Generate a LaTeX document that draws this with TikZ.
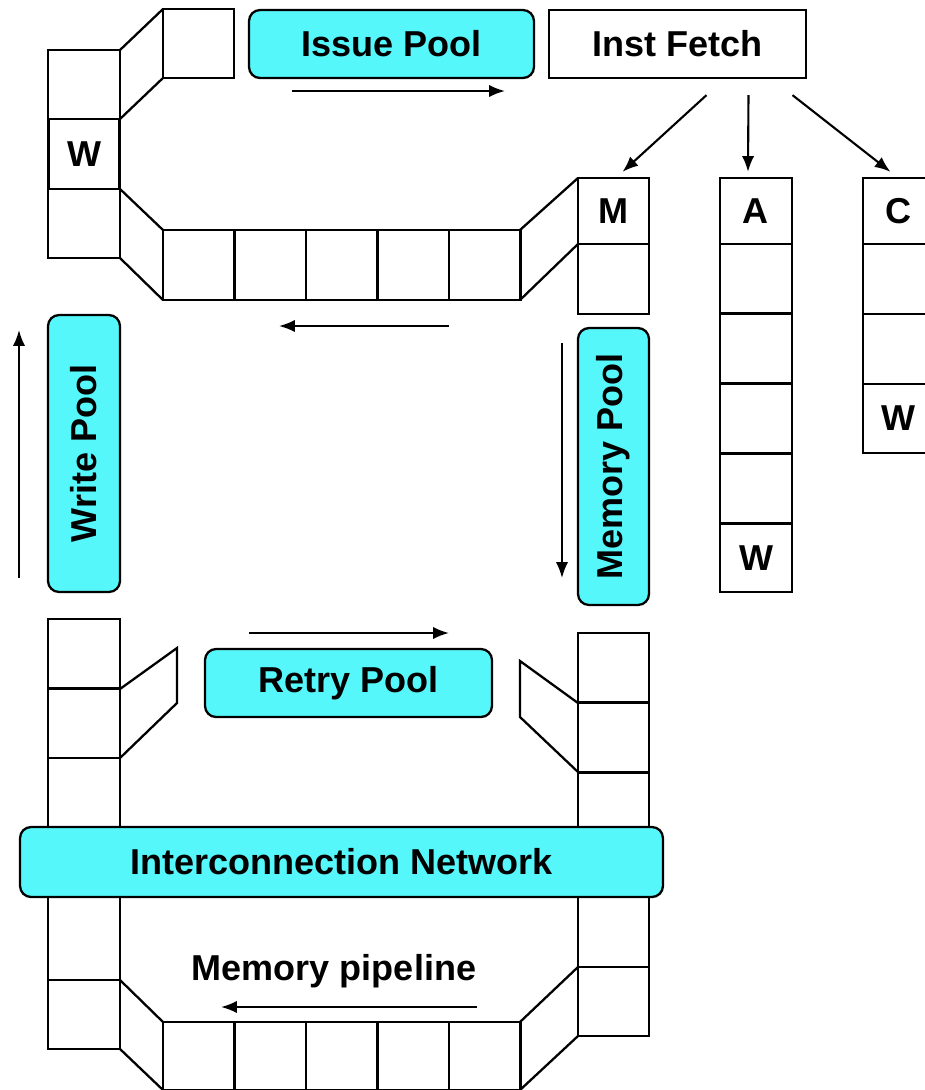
\documentclass[tikz,border=0pt]{standalone}
\usepackage{fontspec}
\setmainfont{Liberation Sans}
\usetikzlibrary{arrows.meta,calc}
\definecolor{poolcyan}{RGB}{85,247,251}

\begin{document}
\begin{tikzpicture}[x=0.02cm,y=-0.02cm,line width=1.3pt,
  pool/.style={draw, fill=poolcyan, rounded corners=0.22cm, inner sep=0pt, font=\bfseries\fontsize{20.5}{24}\selectfont},
  cell/.style={draw, minimum width=1.42cm, inner sep=0pt, font=\bfseries\fontsize{20.5}{24}\selectfont},
  flow/.style={-{Latex[length=9pt,width=7pt]}, line width=1.2pt}]
\useasboundingbox (0,0) rectangle (925,1090);

% pools and fetch
\node[pool, minimum width=5.7cm, minimum height=1.36cm] (issue) at (391.5,44) {Issue Pool};
\node[cell, minimum width=5.14cm, minimum height=1.36cm] (fetch) at (677.5,44) {Inst Fetch};
\node[pool, minimum width=5.54cm, minimum height=1.44cm, rotate=90] (write) at (84,453.5) {Write Pool};
\node[pool, minimum width=5.54cm, minimum height=1.42cm, rotate=90] (mempool) at (613.5,466.5) {Memory Pool};
\node[pool, minimum width=5.74cm, minimum height=1.36cm] (retry) at (348.5,683) {Retry Pool};

% upper pipeline
\draw (48,50) rectangle (120,119);
\node[cell, minimum height=1.4cm] (wtop) at (84,154) {W};
\draw (48,189) rectangle (120,258);
\draw (120,50) -- (163,9) (120,119) -- (163,78);
\draw (163,9) rectangle (234,78);
\draw (120,189) -- (163,230) (120,258) -- (163,300);
\foreach \x in {163,234.5,306,377.5,449}
\draw (\x,230) rectangle +(71.5,70);
\draw (520,230) -- (578,178) (520,300) -- (578,244);
\node[cell, minimum height=1.32cm] (M) at (613.5,211) {M};
\draw (578,244) rectangle (649,314);

% A and C pipelines
\node[cell, minimum width=1.44cm, minimum height=1.32cm] (A) at (756,211) {A};
\foreach \y in {244,314,384,454}
\draw (720,\y) rectangle +(72,69.6);
\node[cell, minimum width=1.44cm, minimum height=1.38cm] (wa) at (756,557.7) {W};
\node[cell, minimum width=1.42cm, minimum height=1.32cm] (C) at (898.5,211) {C};
\foreach \y in {244,314}
\draw (863,\y) rectangle +(71,70);
\node[cell, minimum width=1.42cm, minimum height=1.38cm] (wc) at (898.5,418.5) {W};

\draw[flow] ($(fetch.south)+(29,16)$) -- ($(M.north)+(9,-5)$);
\draw[flow] ($(fetch.south)+(71,16)$) -- ($(A.north)+(-8,-5)$);
\draw[flow] ($(fetch.south)+(115,16)$) -- ($(C.north)+(-8,-5)$);

% flow arrows
\draw[flow] (292,91) -- (505,91);
\draw[flow] (449,326) -- (279,326);
\draw[flow] (19,578) -- (19,330);
\draw[flow] (562,343) -- (562,578);
\draw[flow] (249,633) -- (449,633);

% memory pipeline, around the network
\foreach \y in {619,689,758}
\draw (48,\y) rectangle +(72,69);
\draw (120,689) -- (177,648) -- (177,703) -- (120,758);
\foreach \y in {633,703}
\draw (578,\y) rectangle +(71,69.5);
\draw (578,772) rectangle (649,827);
\draw (578,703) -- (520,661) -- (520,717) -- (578,772);

\node[pool, minimum width=12.86cm, minimum height=1.4cm] (net) at (341.5,862) {Interconnection Network};

\draw (48,897) rectangle (120,980);
\draw (48,980) rectangle (120,1049);
\draw (120,980) -- (163,1022) (120,1049) -- (163,1090);
\foreach \x in {163,234.5,306,377.5,449}
\draw (\x,1022) rectangle +(71.5,68);
\draw (520,1022) -- (578,967) (520,1090) -- (578,1036);
\draw (578,897) rectangle (649,967);
\draw (578,967) rectangle (649,1036);

\node[font=\bfseries\fontsize{20.5}{24}\selectfont] (pipe) at (334,971) {Memory pipeline};
\draw[flow] (477,1007) -- (221,1007);
\end{tikzpicture}
\end{document}
